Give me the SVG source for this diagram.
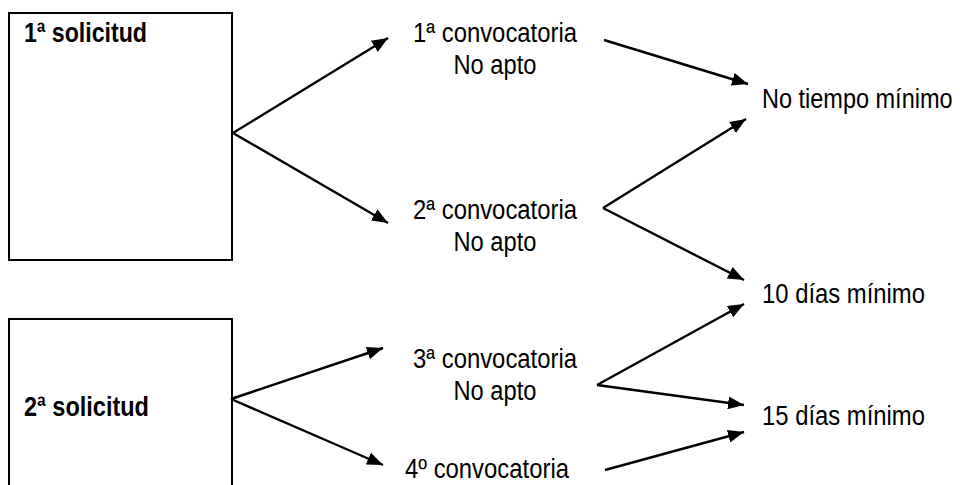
<svg xmlns="http://www.w3.org/2000/svg" width="960" height="485" viewBox="0 0 960 485">
<style>
.box{fill:none;stroke:#000;stroke-width:2}
.t{font-family:"Liberation Sans",Arial,sans-serif;font-size:27px;fill:#000}
.b{font-weight:bold}
.c{text-anchor:middle}
.conn{stroke:#000;stroke-width:2.4;fill:none;marker-end:url(#ah)}
</style>
<defs>
<marker id="ah" markerUnits="userSpaceOnUse" markerWidth="17" markerHeight="13" refX="16" refY="6.5" orient="auto">
<path d="M0,0 L16,6.5 L0,13 z" fill="#000"/>
</marker>
</defs>
<rect width="960" height="485" fill="#fff"/>
<g id="sol1">
<rect class="box" x="9" y="13" width="223" height="247"/>
<text class="t b" x="24" y="42" textLength="123" lengthAdjust="spacingAndGlyphs">1ª solicitud</text>
</g>
<g id="sol2">
<path class="box" d="M9,486 V319 H232 V486"/>
<text class="t b" x="24" y="416" textLength="125" lengthAdjust="spacingAndGlyphs">2ª solicitud</text>
</g>
<g id="conv1">
<text class="t c" x="495" y="42" textLength="164" lengthAdjust="spacingAndGlyphs">1ª convocatoria</text>
<text class="t c" x="495" y="74" textLength="83" lengthAdjust="spacingAndGlyphs">No apto</text>
</g>
<g id="conv2">
<text class="t c" x="495" y="219" textLength="164" lengthAdjust="spacingAndGlyphs">2ª convocatoria</text>
<text class="t c" x="495" y="251" textLength="83" lengthAdjust="spacingAndGlyphs">No apto</text>
</g>
<g id="conv3">
<text class="t c" x="495" y="368" textLength="164" lengthAdjust="spacingAndGlyphs">3ª convocatoria</text>
<text class="t c" x="495" y="400" textLength="83" lengthAdjust="spacingAndGlyphs">No apto</text>
</g>
<g id="conv4">
<text class="t" x="405" y="478" textLength="164" lengthAdjust="spacingAndGlyphs">4º convocatoria</text>
</g>
<g id="res0">
<text class="t" transform="translate(762,108) scale(0.87,1)" x="0" y="0">No tiempo mínimo</text>
</g>
<g id="res10">
<text class="t" x="762" y="303" textLength="163" lengthAdjust="spacingAndGlyphs">10 días mínimo</text>
</g>
<g id="res15">
<text class="t" x="762" y="425" textLength="163" lengthAdjust="spacingAndGlyphs">15 días mínimo</text>
</g>
<g id="connectors">
<path class="conn" d="M233,133 L388,38"/>
<path class="conn" d="M233,133 L388,223"/>
<path class="conn" d="M231,399 L383,348"/>
<path class="conn" d="M231,399 L383,465"/>
<path class="conn" d="M604,40 L748,84"/>
<path class="conn" d="M603,208 L746,119"/>
<path class="conn" d="M603,208 L744,280"/>
<path class="conn" d="M597,385 L744,304"/>
<path class="conn" d="M597,385 L744,405"/>
<path class="conn" d="M605,470 L744,432"/>
</g>
</svg>
